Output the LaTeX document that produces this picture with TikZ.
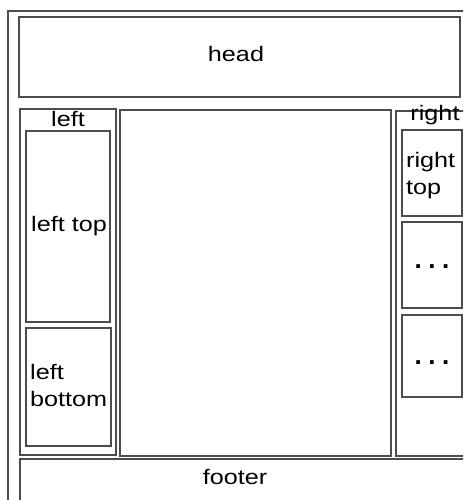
\documentclass[tikz,border=0pt]{standalone}
\usepackage{fontspec}
\setmainfont{Liberation Sans}
\newcommand\wide[1]{\scalebox{1.2}[1]{#1}}
\newcommand\spdots{.\hspace{6.5pt}.\hspace{6.5pt}.}
\tikzset{
  box/.style={draw=black!70, line width=1.4pt},
  txt/.style={inner sep=0pt, font=\fontsize{21}{27}\selectfont, text=black},
  dotstxt/.style={inner sep=0pt, font=\fontsize{26}{27}\selectfont\bfseries, text=black},
}
\begin{document}
\begin{tikzpicture}[x=1pt,y=-1pt]
\useasboundingbox (0,0) rectangle (463,500);
\begin{scope}
\clip (0,0) rectangle (463,500);
% outer frame
\draw[box] (8,11) rectangle (490,530);
% head
\draw[box] (19,17) rectangle (460,97);
\node[txt, anchor=base] (head) at (236,62) {\wide{head}};
% left column
\draw[box] (20,109) rectangle (116,455);
\node[txt, anchor=base] (left) at (68,127) {\wide{left}};
\draw[box] (26,131) rectangle (110,322);
\node[txt, anchor=base] (lefttop) at (69,231) {\wide{left top}};
\draw[box] (26,328) rectangle (111,446);
\node[txt, anchor=base west] (leftbottom) at (30,379) {\wide{\begin{tabular}[t]{@{}l@{}}left\\bottom\end{tabular}}};
% center
\draw[box] (120,110) rectangle (391,456);
% right column
\draw[box] (396,111) rectangle (490,456);
\node[txt, anchor=base] (right) at (435,121) {\wide{right}};
\draw[box] (402,130) rectangle (462,216);
\node[txt, anchor=base west] (righttop) at (406,167) {\wide{\begin{tabular}[t]{@{}l@{}}right\\top\end{tabular}}};
\draw[box] (402,222) rectangle (462,308);
\node[dotstxt, anchor=base] (dots1) at (432,268) {\spdots};
\draw[box] (402,315) rectangle (462,397);
\node[dotstxt, anchor=base] (dots2) at (432,364) {\spdots};
% footer
\draw[box] (20,459) rectangle (490,530);
\node[txt, anchor=base] (footer) at (235,484) {\wide{footer}};
\end{scope}
\end{tikzpicture}
\end{document}
